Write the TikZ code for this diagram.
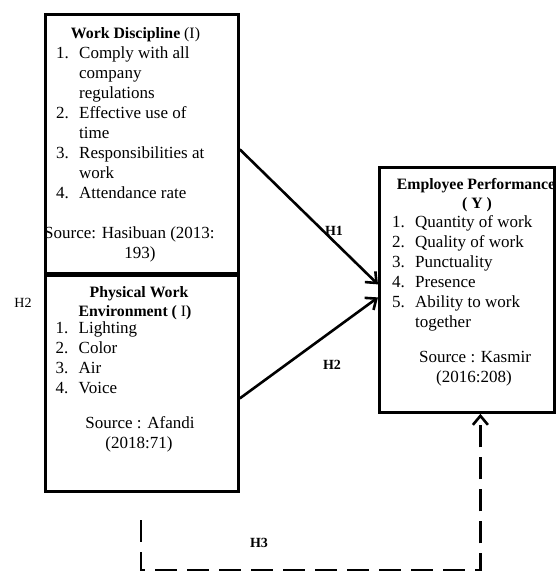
\documentclass[tikz,border=0pt]{standalone}
\usepackage{fontspec}
\setmainfont{Liberation Serif}
\usetikzlibrary{arrows.meta}
\begin{document}
\begin{tikzpicture}[x=1pt,y=-1pt,
  box/.style={draw, line width=2.8pt, inner sep=0pt, anchor=north west},
  reg/.style={inner sep=0pt, font=\fontsize{17}{20}\selectfont},
  lst/.style={reg, align=left, anchor=north west},
  ttl/.style={inner sep=0pt, font=\fontsize{15.8}{19}\selectfont\bfseries, anchor=base},
  hlab/.style={inner sep=0pt, font=\fontsize{14}{16}\selectfont\bfseries},
  tip/.style={-{Straight Barb[length=9pt,width=15pt,line width=2.6pt]}},
  arr/.style={line width=2.6pt, tip},
  dsh/.style={line width=2.8pt, dash pattern=on 22pt off 10pt, tip}
]
\useasboundingbox (0,0) rectangle (558,571);

% boxes
\node[box, minimum width=193pt, minimum height=259pt] (wd) at (44,13) {};
\node[box, minimum width=193pt, minimum height=216pt] (pe) at (44,274) {};
\node[box, minimum width=175pt, minimum height=245pt] (ep) at (378,166) {};

% Work Discipline
\node[ttl] (wdt) at (135.5,38) {Work Discipline {\mdseries(I)}};
\node[lst] (wdl) at (56,44) {\strut\makebox[23pt][l]{1.}Comply with all\\
\hspace*{23pt}company\\
\hspace*{23pt}regulations\\
\makebox[23pt][l]{2.}Effective use of\\
\hspace*{23pt}time\\
\makebox[23pt][l]{3.}Responsibilities at\\
\hspace*{23pt}work\\
\makebox[23pt][l]{4.}Attendance rate};
\node[reg, anchor=base west] (wds1) at (44,238) {Source: Hasibuan (2013:};
\node[reg, anchor=base] (wds2) at (140,258) {193)};

% Physical Work Environment
\node[ttl] (pet1) at (139,297) {Physical Work};
\node[ttl] (pet2) at (135,316) {Environment ( {\mdseries I})};
\node[lst] (pel) at (55.5,319) {\strut\makebox[23pt][l]{1.}Lighting\\
\makebox[23pt][l]{2.}Color\\
\makebox[23pt][l]{3.}Air\\
\makebox[23pt][l]{4.}Voice};
\node[reg, anchor=base] (pes1) at (140,428) {Source : Afandi};
\node[reg, anchor=base] (pes2) at (139,448) {(2018:71)};

% Employee Performance
\node[ttl] (ept1) at (476,189) {Employee Performance};
\node[ttl] (ept2) at (477,208) {( Y )};
\node[lst] (epl) at (392,213) {\strut\makebox[23pt][l]{1.}Quantity of work\\
\makebox[23pt][l]{2.}Quality of work\\
\makebox[23pt][l]{3.}Punctuality\\
\makebox[23pt][l]{4.}Presence\\
\makebox[23pt][l]{5.}Ability to work\\
\hspace*{23pt}together};
\node[reg, anchor=base] (eps1) at (475,362) {Source : Kasmir};
\node[reg, anchor=base] (eps2) at (474,382) {(2016:208)};

% connectors
\draw[arr] ([yshift=-5.5pt]wd.east) -- ([yshift=5.5pt]ep.west);
\draw[arr] ([yshift=-15pt]pe.east) -- ([yshift=-7.5pt]ep.west);
\coordinate (d0) at (141,520);
\coordinate (d1) at (141,570);
\draw[dsh] (d0) -- (d1) -| ([xshift=13.5pt]ep.south);

% labels
\node[hlab] (h1) at (334,231) {H1};
\node[hlab] (h2) at (332,365) {H2};
\node[hlab, font=\fontsize{14}{16}\selectfont\mdseries] (h2l) at (23,303) {H2};
\node[hlab] (h3) at (259,543) {H3};
\end{tikzpicture}
\end{document}
